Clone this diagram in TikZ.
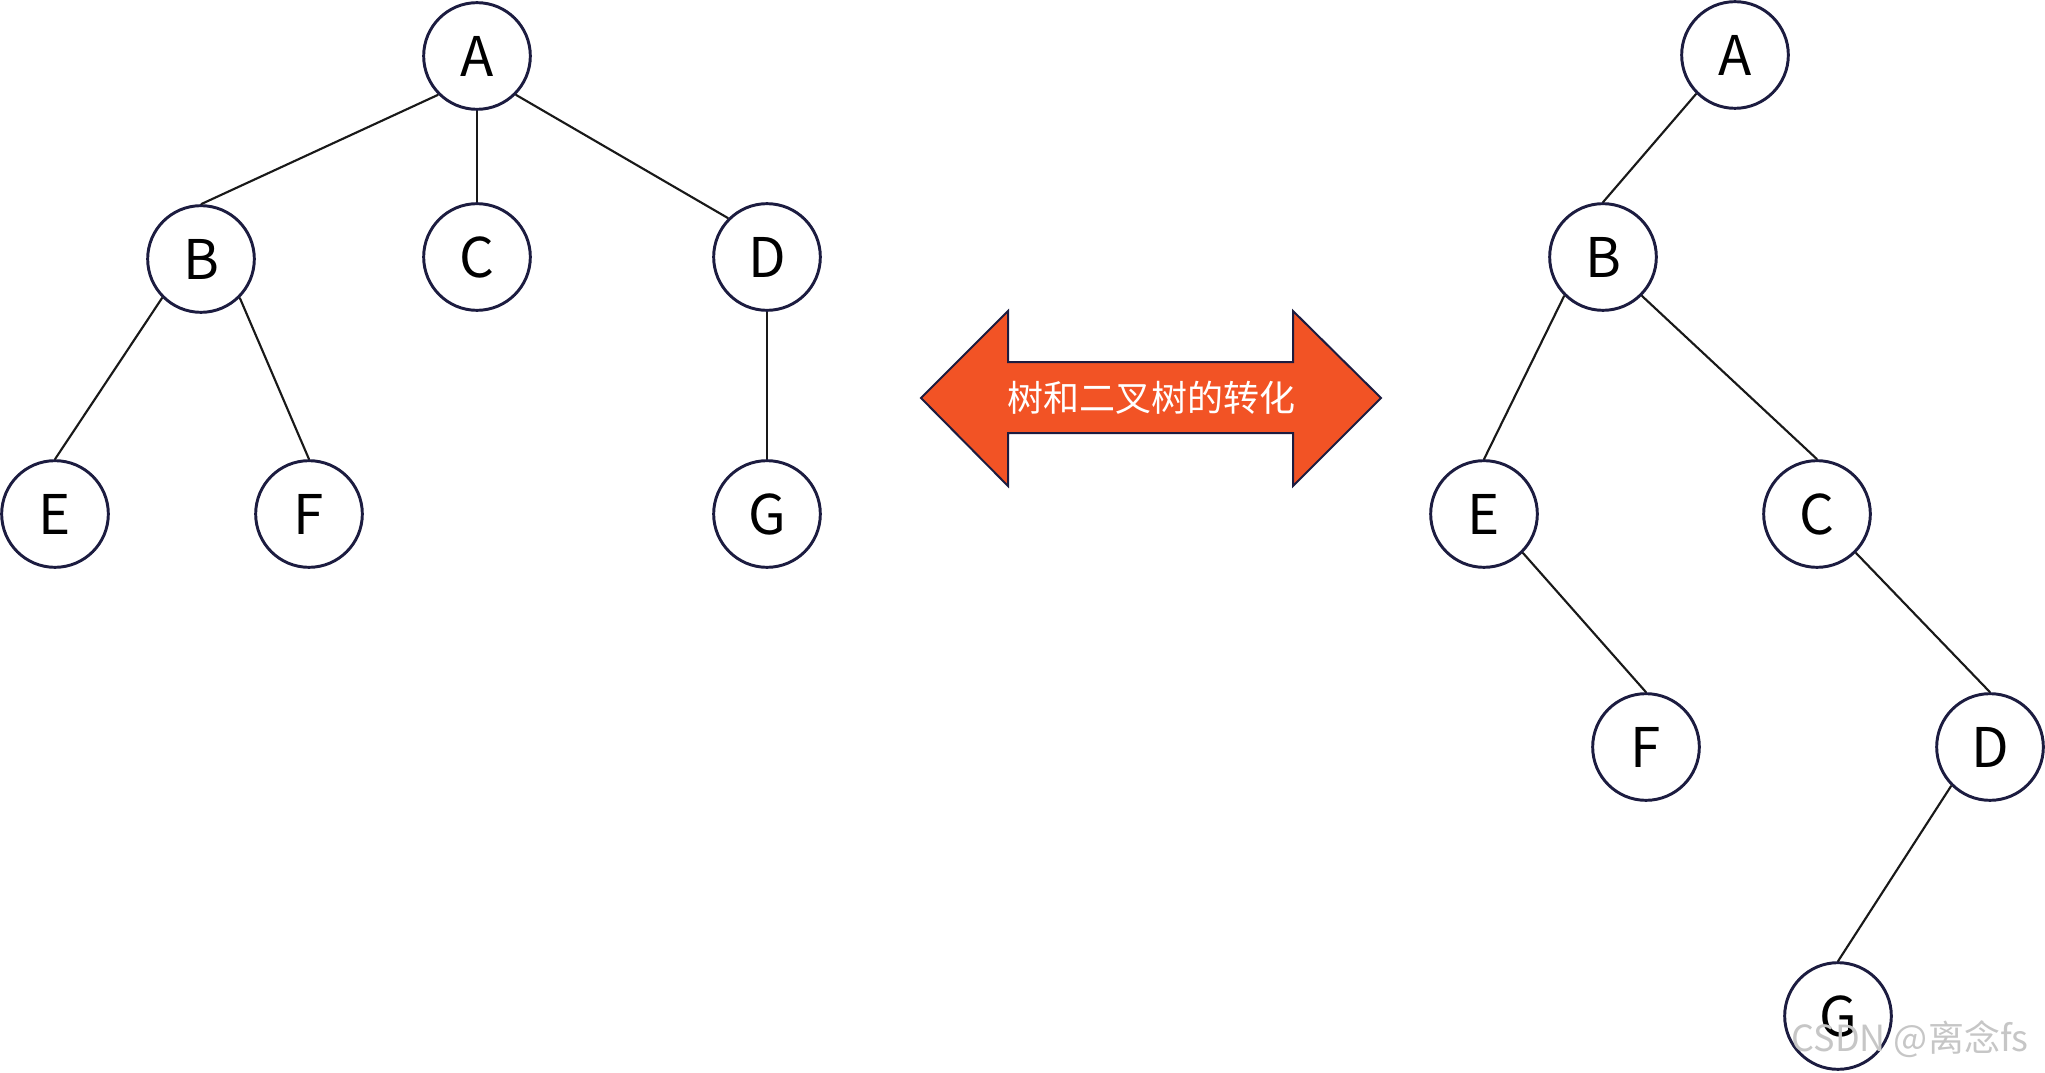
\documentclass[tikz,border=0pt]{standalone}
\usepackage{fontspec}
\newfontfamily\cjk{Noto Sans CJK SC}
\definecolor{ringnavy}{HTML}{1C1C40}
\definecolor{arroworange}{HTML}{F25325}
\tikzset{
  treenode/.style={circle, draw=ringnavy, line width=2.2pt, fill=white,
    minimum size=80pt, inner sep=0pt, font=\cjk\fontsize{41}{44}\selectfont},
  treeedge/.style={line width=1.6pt, black!90}
}
\begin{document}
\begin{tikzpicture}[x=0.75pt, y=-0.75pt]
  % Canvas in pixel units
  \useasboundingbox (0,0) rectangle (2045,1073);

  % Left: general tree
  \node[treenode] (lA) at (477,56)  {A};
  \node[treenode] (lB) at (201,259) {B};
  \node[treenode] (lC) at (477,257) {C};
  \node[treenode] (lD) at (767,257) {D};
  \node[treenode] (lE) at (55,514)  {E};
  \node[treenode] (lF) at (309,514) {F};
  \node[treenode] (lG) at (767,514) {G};

  \draw[treeedge] (lA.south west) -- (lB.north);
  \draw[treeedge] (lA.south) -- (lC.north);
  \draw[treeedge] (lA.south east) -- (lD.north west);
  \draw[treeedge] (lB.south west) -- (lE.north);
  \draw[treeedge] (lB.south east) -- (lF.north);
  \draw[treeedge] (lD.south) -- (lG.north);

  % Double arrow in the middle
  \draw[line width=1.5pt, draw=ringnavy, fill=arroworange]
    (921,398) -- (1008,311) -- (1008,362) -- (1293,362) -- (1293,311)
    -- (1381,398) -- (1293,486) -- (1293,433) -- (1008,433) -- (1008,486) -- cycle;
  \node[text=white, font=\cjk\fontsize{27}{30}\selectfont] (title) at (1151,398) {树和二叉树的转化};

  % Right: binary tree
  \node[treenode] (rA) at (1735,55)  {A};
  \node[treenode] (rB) at (1603,257) {B};
  \node[treenode] (rE) at (1484,514) {E};
  \node[treenode] (rC) at (1817,514) {C};
  \node[treenode] (rF) at (1646,747) {F};
  \node[treenode] (rD) at (1990,747) {D};
  \node[treenode] (rG) at (1838,1016) {G};

  \draw[treeedge] (rA.south west) -- (rB.north);
  \draw[treeedge] (rB.south west) -- (rE.north);
  \draw[treeedge] (rB.south east) -- (rC.north);
  \draw[treeedge] (rE.south east) -- (rF.north);
  \draw[treeedge] (rC.south east) -- (rD.north);
  \draw[treeedge] (rD.south west) -- (rG.north);

  % Watermark
  \node[text=gray!45, font=\cjk\fontsize{27}{30}\selectfont] (mark) at (1910,1039) {CSDN @离念fs};
\end{tikzpicture}
\end{document}
